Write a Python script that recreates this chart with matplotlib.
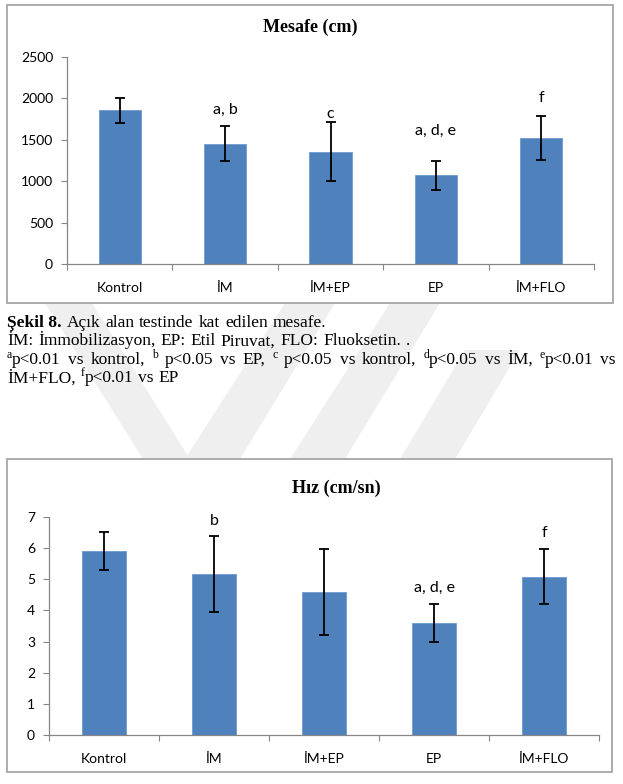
import matplotlib
matplotlib.use("Agg")
import matplotlib.pyplot as plt
from matplotlib.patches import Rectangle, Polygon

W, H = 623, 784

groups = ["Kontrol", "İM", "İM+EP", "EP", "İM+FLO"]

# Mesafe (cm)
dist_mean = [1855, 1455, 1355, 1070, 1520]
dist_err = [150, 212, 355, 178, 267]
dist_marks = ["", "a, b", "c", "a, d, e", "f"]
dist_mark_y = [0, 1860, 1812, 1606, 2005]

# Hız (cm/sn)
speed_mean = [5.91, 5.17, 4.60, 3.59, 5.08]
speed_err = [0.61, 1.22, 1.38, 0.61, 0.88]
speed_marks = ["", "b", "", "a, d, e", "f"]
speed_mark_y = [0, 6.87, 0, 4.73, 6.50]

BAR = "#4f81bd"
AXC = "#868686"
TICKFONT = "Lato"
SERIF = "Liberation Serif"


def fx(px):
    return px / W


def fy(py):
    return 1 - py / H


fig = plt.figure(figsize=(W / 100, H / 100), dpi=100)

# faint watermark stripes behind the caption
wm = "#efefef"
for poly in (
    [(45, 303), (92, 303), (190, 459), (143, 459)],
    [(185, 459), (240, 459), (335, 303), (285, 303)],
    [(290, 459), (345, 459), (440, 303), (390, 303)],
    [(400, 459), (455, 459), (520, 350), (465, 350)],
):
    fig.patches.append(Polygon([(fx(x), fy(y)) for x, y in poly], closed=True,
                               transform=fig.transFigure, fc=wm, ec="none", zorder=0))

# chart frames
for x0, y0, x1, y1 in ((7, 5, 613, 303), (7, 459, 612, 772)):
    fig.patches.append(Rectangle((fx(x0), fy(y1)), fx(x1 - x0), (y1 - y0) / H,
                                 transform=fig.transFigure, fc="white",
                                 ec="#a6a6a6", lw=1.3, zorder=1))


def bar_panel(rect_px, means, errs, marks, mark_y, ymax, ystep, title, title_xy):
    l, t, r, b = rect_px
    ax = fig.add_axes([fx(l), fy(b), fx(r - l), (b - t) / H])
    ax.set_zorder(2)
    ax.patch.set_alpha(0)
    x = list(range(len(groups)))
    ax.bar(x, means, width=0.4, color=BAR, edgecolor="#6f9bd0", linewidth=0.6, zorder=2)
    ax.errorbar(x, means, yerr=errs, fmt="none", ecolor="black", elinewidth=1.3,
                capsize=3.5, capthick=1.3, zorder=3)
    for xi, m, my in zip(x, marks, mark_y):
        if m:
            ax.text(xi, my, m, ha="center", va="center", fontsize=11.5,
                    family=TICKFONT, color="black")
    ax.set_xlim(-0.5, len(groups) - 0.5)
    ax.set_ylim(0, ymax)
    ax.set_yticks([v * ystep for v in range(int(ymax / ystep) + 1)])
    ax.set_xticks([i - 0.5 for i in range(len(groups) + 1)])
    ax.set_xticklabels([])
    ax.set_xticks(x, minor=True)
    ax.set_xticklabels(groups, minor=True)
    ax.tick_params(axis="x", which="major", direction="out", length=4, color=AXC, width=0.8)
    ax.tick_params(axis="x", which="minor", length=0, pad=13, labelsize=10)
    ax.tick_params(axis="y", direction="out", length=4, color=AXC, width=0.8,
                   pad=6, labelsize=10)
    for lab in ax.get_xticklabels(minor=True) + ax.get_yticklabels():
        lab.set_family(TICKFONT)
    for s in ("top", "right"):
        ax.spines[s].set_visible(False)
    for s in ("left", "bottom"):
        ax.spines[s].set_color(AXC)
        ax.spines[s].set_linewidth(0.9)
    fig.text(fx(title_xy[0]), fy(title_xy[1]), title, ha="center", va="center",
             fontsize=13, weight="bold", family=SERIF, zorder=3)
    return ax


bar_panel((67, 57, 594, 264), dist_mean, dist_err, dist_marks, dist_mark_y,
          2500, 500, "Mesafe (cm)", (310, 27))
bar_panel((49, 517, 599, 735), speed_mean, speed_err, speed_marks, speed_mark_y,
          7, 1, "Hız (cm/sn)", (336, 488))

# caption, laid out word by word so line 3 can be justified
renderer = fig.canvas.get_renderer()
CAP = 12.5
SUP = 8.5


def make_word(segs, x, y):
    """segs: list of (text, kind) with kind in n/b/sup; returns list of Text and width."""
    arts = []
    cx = x
    for txt, kind in segs:
        kw = dict(family=SERIF, fontsize=CAP, va="baseline", ha="left", zorder=3)
        yy = y
        if kind == "b":
            kw["weight"] = "bold"
        if kind == "sup":
            kw["fontsize"] = SUP
            yy = y - 6.5
        t = fig.text(fx(cx), fy(yy), txt, **kw)
        w = t.get_window_extent(renderer).width
        arts.append((t, cx - x, yy))
        cx += w
    return arts, cx - x


def place_line(words, y, left=7, right=None):
    built = [make_word(w, 0, y) for w in words]
    if right is None:
        gap = 5.0
    else:
        total = sum(w for _, w in built)
        gap = (right - left - total) / (len(built) - 1)
    cx = left
    for arts, w in built:
        for t, off, yy in arts:
            t.set_position((fx(cx + off), fy(yy)))
        cx += w + gap


place_line([[("Şekil 8.", "b")], [("Açık", "n")], [("alan", "n")], [("testinde", "n")],
            [("kat", "n")], [("edilen", "n")], [("mesafe.", "n")]], 327)
place_line([[("İM:", "n")], [("İmmobilizasyon,", "n")], [("EP:", "n")], [("Etil", "n")],
            [("Piruvat,", "n")], [("FLO:", "n")], [("Fluoksetin.", "n")], [(".", "n")]], 345.5)
place_line([[("a", "sup"), ("p<0.01", "n")], [("vs", "n")], [("kontrol,", "n")],
            [("b", "sup")], [("p<0.05", "n")], [("vs", "n")], [("EP,", "n")],
            [("c", "sup")], [("p<0.05", "n")], [("vs", "n")], [("kontrol,", "n")],
            [("d", "sup"), ("p<0.05", "n")], [("vs", "n")], [("İM,", "n")],
            [("e", "sup"), ("p<0.01", "n")], [("vs", "n")]], 364, right=616)
place_line([[("İM+FLO,", "n")], [("f", "sup"), ("p<0.01", "n")], [("vs", "n")],
            [("EP", "n")]], 382.5)

fig.savefig("out.png", dpi=100)
